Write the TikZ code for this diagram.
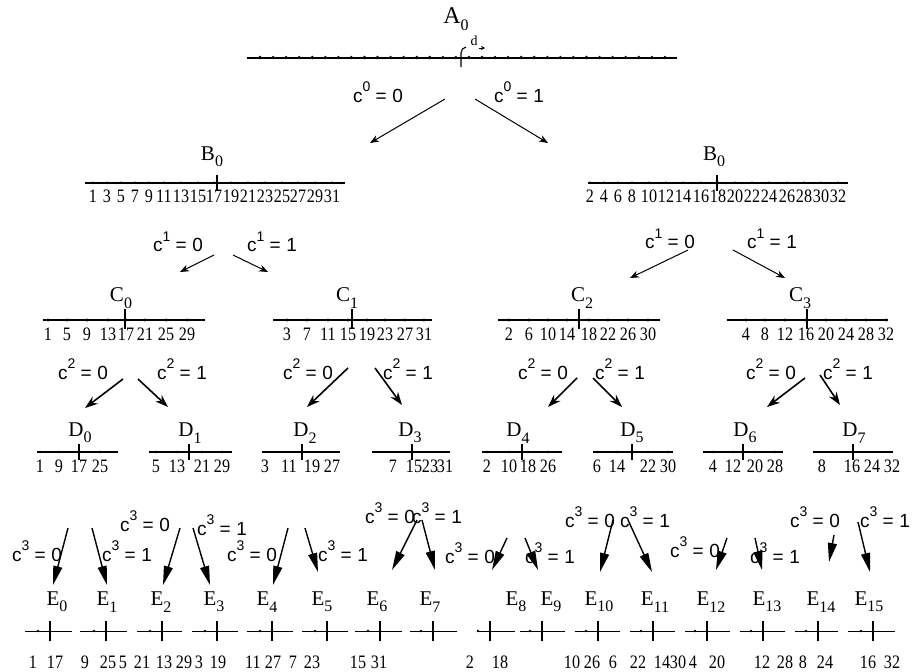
\documentclass[tikz,border=0pt]{standalone}
\usepackage{fontspec}
\usepackage{graphicx}
\setmainfont{Liberation Serif}
\newfontfamily\sansf{Liberation Sans}
\usetikzlibrary{arrows.meta}
\newcommand\lab[2]{#1\raisebox{-0.65ex}{\fontsize{16}{16}\selectfont #2}}
\newcommand\cee[2]{c\raisebox{1.05ex}{\fontsize{14}{14}\selectfont #1}\hspace{0.28em}=\hspace{0.3em}#2}
\newcommand\nsq[1]{\scalebox{0.85}[1]{#1}}
\begin{document}
\begin{tikzpicture}[x=1pt,y=-1pt,
  axis/.style={line width=1.2pt},
  tickmark/.style={line width=1.1pt},
  num/.style={font=\fontsize{19}{19}\selectfont, inner sep=0pt},
  lbl/.style={font=\fontsize{21}{21}\selectfont, inner sep=0pt},
  cl/.style={font=\sansf\fontsize{19}{19}\selectfont, inner sep=0pt},
  arrA/.style={line width=1pt, -{Stealth[length=9pt,width=7pt]}},
  arrB/.style={line width=1.6pt, -{Stealth[length=13pt,width=9pt]}},
  arrC/.style={line width=1.4pt, -{Triangle[length=19pt,width=9pt]}}]
\useasboundingbox (0,0) rectangle (916,672);
\fill[white] (0,0) rectangle (916,672);

% ---------- level A ----------
\node[lbl, font=\fontsize{24}{24}\selectfont] (A0) at (456,19) {\lab{A}{0}};
\coordinate (aL) at (247,58); \coordinate (aR) at (677,58);
\draw[axis] (aL) -- (aR);
\foreach \i in {0,...,31} \fill ({260+13.06*\i},57.5) circle (1.8pt);
\coordinate (aT1) at (461,67); \coordinate (aT2) at (466,47);
\draw[tickmark] (aT1) -- (461,53) to[out=90,in=190] (aT2);
\node[font=\fontsize{14}{14}\selectfont, inner sep=0pt] (dlab) at (474,41) {d};
\coordinate (dA) at (479,48); \coordinate (dB) at (485,48);
\draw[line width=0.6pt,-{Stealth[length=4pt,width=4pt]}] (dA) -- (dB);

% c^0
\node[cl] (c00) at (378,92) {\cee{0}{0}};
\node[cl] (c01) at (519,92) {\cee{0}{1}};
\foreach \nm/\xa/\ya/\xb/\yb in {p0/445/99/370/143, p1/475/99/548/143}{
  \coordinate (\nm s) at (\xa,\ya); \coordinate (\nm e) at (\xb,\yb);
  \draw[arrA] (\nm s) -- (\nm e);}

% ---------- level B ----------
\node[lbl] (B0l) at (212,157) {\lab{B}{0}};
\node[lbl] (B0r) at (714,157) {\lab{B}{0}};
\coordinate (bl1) at (85,183); \coordinate (bl2) at (345,183);
\coordinate (br1) at (588,183); \coordinate (br2) at (848,183);
\draw[axis] (bl1) -- (bl2);
\draw[axis] (br1) -- (br2);
\draw[tickmark] (217,175) -- (217,191);
\draw[tickmark] (717,175) -- (717,191);
\foreach \n/\x in {1/93,3/107,5/121,7/135,9/149,11/164,13/181,15/198,17/214,19/231,21/248,23/265,25/282,27/298,29/315,31/332}{
  \node[num] (bL\n) at (\x,196) {\nsq{\n}}; \fill (\x,182.5) circle (1.2pt);}
\foreach \n/\x in {2/590,4/604,6/618,8/632,10/649,12/666,14/683,16/701,18/718,20/735,22/752,24/769,26/787,28/804,30/821,32/838}{
  \node[num] (bR\n) at (\x,196) {\nsq{\n}}; \fill (\x,182.5) circle (1.2pt);}

% c^1
\node[cl] (c10a) at (178,242) {\cee{1}{0}};
\node[cl] (c11a) at (272,242) {\cee{1}{1}};
\node[cl] (c10b) at (670,239) {\cee{1}{0}};
\node[cl] (c11b) at (772,239) {\cee{1}{1}};
\foreach \nm/\xa/\ya/\xb/\yb in {q0/214/255/180/272, q1/233/255/268/272, q2/688/250/630/278, q3/733/250/785/278}{
  \coordinate (\nm s) at (\xa,\ya); \coordinate (\nm e) at (\xb,\yb);
  \draw[arrA] (\nm s) -- (\nm e);}

% ---------- level C ----------
\node[lbl] (C0) at (121,298) {\lab{C}{0}};
\node[lbl] (C1) at (347,298) {\lab{C}{1}};
\node[lbl] (C2) at (582,298) {\lab{C}{2}};
\node[lbl] (C3) at (800,298) {\lab{C}{3}};
\foreach \a/\b/\t in {43/205/125, 273/432/352, 498/660/579, 727/888/807}{
  \draw[axis] (\a,320) -- (\b,320);
  \draw[tickmark] (\t,309) -- (\t,329);}
\foreach \n/\x in {1/48,5/67,9/87,13/108,17/126,21/145,25/166,29/187}{
  \node[num] (cA\n) at (\x,334) {\nsq{\n}}; \fill (\x,320) circle (1.7pt);}
\foreach \n/\x in {3/287,7/307,11/328,15/348,19/367,23/385,27/405,31/424}{
  \node[num] (cB\n) at (\x,334) {\nsq{\n}}; \fill (\x,320) circle (1.7pt);}
\foreach \n/\x in {2/509,6/529,10/548,14/567,18/589,22/608,26/628,30/648}{
  \node[num] (cC\n) at (\x,334) {\nsq{\n}}; \fill (\x,320) circle (1.7pt);}
\foreach \n/\x in {4/746,8/765,12/785,16/806,20/826,24/846,28/866,32/886}{
  \node[num] (cD\n) at (\x,334) {\nsq{\n}}; \fill (\x,320) circle (1.7pt);}

% c^2
\foreach \nm/\x/\v in {ka/83/0, kb/182/1, kc/308/0, kd/408/1, ke/543/0, kf/620/1, kg/771/0, kh/848/1}{
  \node[cl] (\nm) at (\x,369) {\cee{2}{\v}};}
\foreach \nm/\xa/\ya/\xb/\yb in {r0/123/379/85/408, r1/138/379/168/407, r2/348/368/307/407, r3/375/368/402/405, r4/577/378/548/407, r5/593/378/622/407, r6/805/378/767/407, r7/820/375/840/405}{
  \coordinate (\nm s) at (\xa,\ya); \coordinate (\nm e) at (\xb,\yb);
  \draw[arrB] (\nm s) -- (\nm e);}

% ---------- level D ----------
\foreach \i/\x in {0/80,1/190,2/305,3/410,4/518,5/632,6/745,7/854}{
  \node[lbl] (D\i) at (\x,433) {\lab{D}{\i}};}
\foreach \a/\b/\t in {37/118/79, 149/232/189, 262/340/302, 372/450/412, 482/562/522, 593/673/632, 703/783/743, 813/893/853}{
  \draw[axis] (\a,452) -- (\b,452);
  \draw[tickmark] (\t,444) -- (\t,460);}
\foreach \n/\x in {1/40,9/59,17/79,25/100}{\node[num] (dA\n) at (\x,466) {\nsq{\n}}; \fill (\x,452) circle (1.3pt);}
\foreach \n/\x in {5/156,13/177,21/202,29/222}{\node[num] (dB\n) at (\x,466) {\nsq{\n}}; \fill (\x,452) circle (1.3pt);}
\foreach \n/\x in {3/265,11/289,19/312,27/332}{\node[num] (dC\n) at (\x,466) {\nsq{\n}};}
\foreach \n/\x in {7/393,15/414,23/430,31/445}{\node[num] (dD\n) at (\x,466) {\nsq{\n}};}
\foreach \n/\x in {2/487,10/509,18/528,26/548}{\node[num] (dE\n) at (\x,466) {\nsq{\n}}; \fill (\x,452) circle (1.3pt);}
\foreach \n/\x in {6/597,14/617,22/648,30/668}{\node[num] (dF\n) at (\x,466) {\nsq{\n}}; \fill (\x,452) circle (1.3pt);}
\foreach \n/\x in {4/713,12/733,20/755,28/775}{\node[num] (dG\n) at (\x,466) {\nsq{\n}}; \fill (\x,452) circle (1.3pt);}
\foreach \n/\x in {8/822,16/852,24/872,32/892}{\node[num] (dH\n) at (\x,466) {\nsq{\n}};}

% c^3
\foreach \nm/\x/\y/\v in {m0/37/551/0, m1/127/551/1, m2/145/521/0, m3/222/525/1, m4/252/551/0, m5/343/551/1, m6/390/513/0, m7/437/513/1, m8/470/553/0, m9/550/553/1, m10/590/517/0, m11/645/517/1, m12/695/547/0, m13/775/553/1, m14/815/517/0, m15/885/517/1}{
  \node[cl] (\nm) at (\x,\y) {\cee{3}{\v}};}
\foreach \nm/\xa/\ya/\xb/\yb in {s0/68/528/53/585, s1/92/528/107/585, s2/180/528/163/585, s3/193/528/210/585, s4/288/528/273/585, s5/305/528/318/572, s6/417/520/392/570, s7/422/520/435/570, s8/507/538/492/570, s9/525/538/538/570, s10/613/520/600/572, s11/628/520/652/572, s12/727/538/716/570, s13/755/538/762/570, s14/834/535/829/562, s15/858/522/870/572}{
  \coordinate (\nm s) at (\xa,\ya); \coordinate (\nm e) at (\xb,\yb);
  \draw[arrC] (\nm s) -- (\nm e);}

% ---------- level E ----------
\foreach \i/\x in {0/57,1/107,2/161,3/214,4/267,5/322,6/377,7/430,8/516,9/551,10/599,11/655,12/711,13/767,14/821,15/869}{
  \node[lbl] (E\i) at (\x,602) {\lab{E}{\i}};}
\foreach \a/\b/\t in {25/72/50, 80/127/106, 137/182/162, 192/238/217, 247/293/272, 302/348/327, 355/402/380, 410/457/433, 477/515/490, 520/565/542, 575/620/598, 630/675/653, 685/730/707, 740/785/763, 795/838/818, 848/895/873}{
  \draw[line width=1pt] (\a,631) -- (\b,631);
  \draw[tickmark] (\t,621) -- (\t,641);
  \fill ({\t-12},631) circle (1.3pt);}
\foreach \n/\x in {1/33,17/55,9/85,25/108,5/123,21/142,13/164,29/184,3/199,19/218,11/253,27/273,7/293,23/312,15/358,31/379}{
  \node[num] (eL\n) at (\x,662) {\nsq{\n}};}
\foreach \n/\x in {2/470,18/500,10/572,26/592,6/613,22/638,14/662,30/678,4/693,20/717,12/762,28/785,8/803,24/825,16/868,32/892}{
  \node[num] (eR\n) at (\x,662) {\nsq{\n}};}
\end{tikzpicture}
\end{document}
